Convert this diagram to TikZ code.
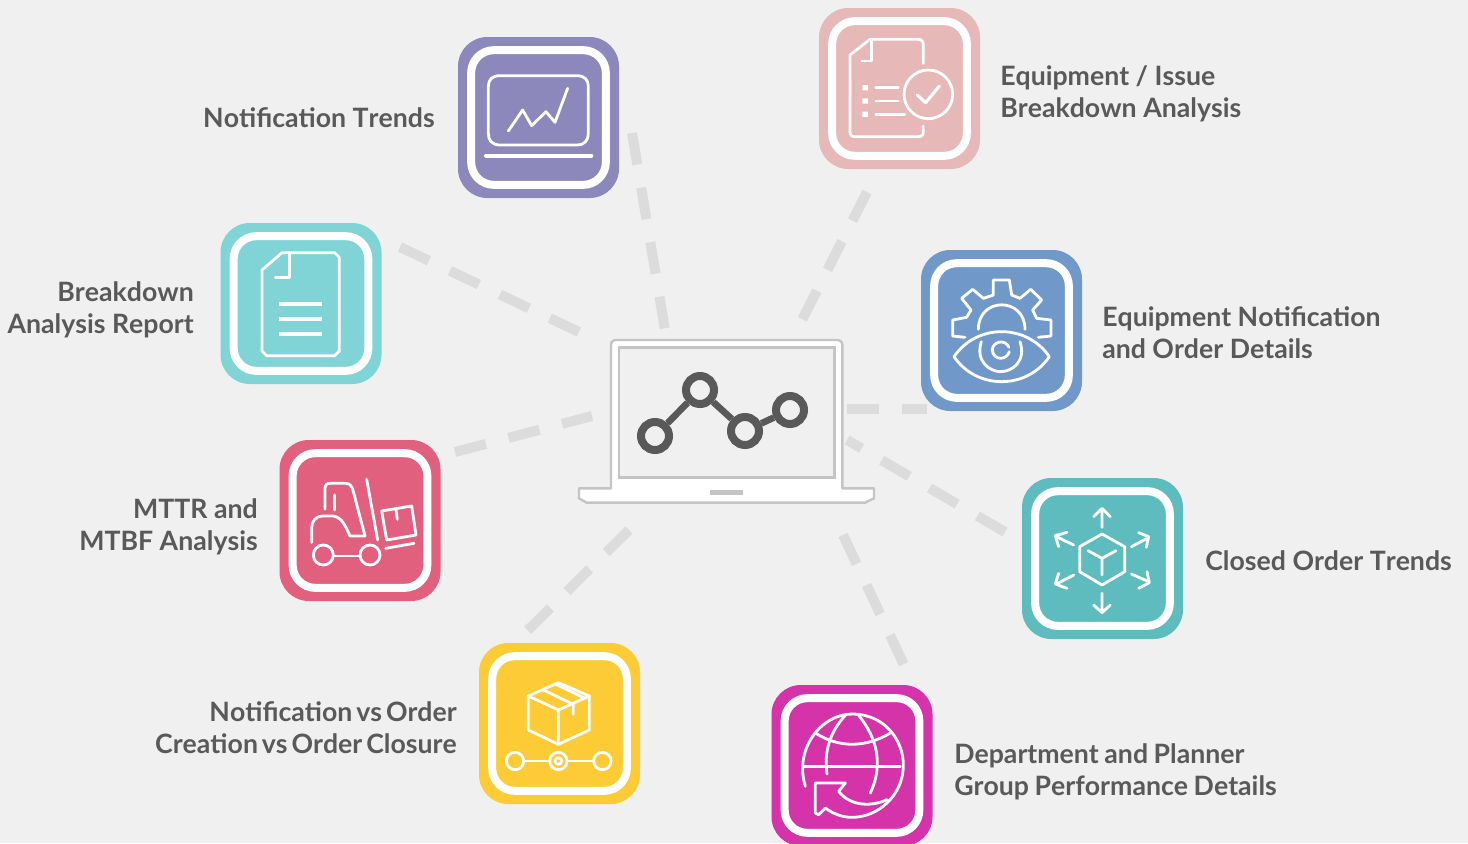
\documentclass[tikz,border=0pt]{standalone}
\usepackage{fontspec}
\setmainfont[Kerning=Off]{Lato}
\definecolor{bg}{HTML}{F0F0F0}
\definecolor{txt}{HTML}{595959}
\definecolor{dashc}{HTML}{DCDCDC}
\definecolor{lapg}{HTML}{C4C4C4}
\definecolor{cTrends}{HTML}{8C88BC}
\definecolor{cIssue}{HTML}{E6B8B8}
\definecolor{cNotif}{HTML}{7099C9}
\definecolor{cClosed}{HTML}{5FBCBE}
\definecolor{cDept}{HTML}{D433A9}
\definecolor{cVs}{HTML}{FCCB35}
\definecolor{cMttr}{HTML}{E0607E}
\definecolor{cReport}{HTML}{80D4D5}
\tikzset{
  px/.style={x=0.75pt,y=-0.75pt},
  iconbox/.style={rectangle,draw=none,minimum size=120.75pt,rounded corners=22pt,inner sep=0pt},
  ringbox/.style={rectangle,draw=white,line width=6pt,minimum size=101pt,rounded corners=17pt,inner sep=0pt},
  conn/.style={draw=dashc,line width=7.5pt,dash pattern=on 24pt off 17.5pt},
  lbl/.style={text=txt,font=\fontsize{20}{24}\selectfont\bfseries,inner sep=0pt},
  lblL/.style={lbl,anchor=west,align=left},
  lblR/.style={lbl,anchor=east,align=right},
  zoomed/.style={x=0.25pt,y=-0.25pt},
  ic/.style={draw=white,line width=2.1pt,line join=round,line cap=round},
  graphnode/.style={circle,draw=txt,line width=6pt,minimum size=21pt,inner sep=0pt,fill=bg},
  graphedge/.style={draw=txt,line width=5pt},
}
\begin{document}
\begin{tikzpicture}[px]
\clip (0,0) rectangle (1468,843);
\fill[bg] (0,0) rectangle (1468,843);

% connector ends
\coordinate (t1) at (632,133);   \coordinate (t2) at (665,330);
\coordinate (i1) at (867,192);   \coordinate (i2) at (802,320);
\coordinate (n1) at (847,409);   \coordinate (n2) at (927,409);
\coordinate (c1) at (1005,532);  \coordinate (c2) at (847,440);
\coordinate (d1) at (843,535);   \coordinate (d2) at (905,667);
\coordinate (v1) at (629,530);   \coordinate (v2) at (525,633);
\coordinate (m1) at (455,452);   \coordinate (m2) at (592,416);
\coordinate (r1) at (400,247);   \coordinate (r2) at (581,333);
\draw[conn] (t1) -- (t2);
\draw[conn] (i1) -- (i2);
\draw[conn] (n1) -- (n2);
\draw[conn] (c1) -- (c2);
\draw[conn] (d1) -- (d2);
\draw[conn] (v1) -- (v2);
\draw[conn] (m1) -- (m2);
\draw[conn] (r1) -- (r2);

% laptop
\begin{scope}[shift={(570,330)},zoomed]
\draw[lapg,fill=white,line width=1.8pt,line join=round]
  (123,475) -- (123,45) .. controls (123,35) and (130,30) .. (140,30) -- (800,30)
  .. controls (810,30) and (817,35) .. (817,45) -- (817,475) -- (912,475) -- (912,505)
  -- (885,518) -- (50,518) -- (27,505) -- (27,475) -- cycle;
\draw[lapg,fill=bg,line width=1.8pt] (147,52) rectangle (793,442);
\fill[lapg] (420,481) rectangle (520,495);
\node[graphnode] (g1) at (255,318) {};
\node[graphnode] (g2) at (390,180) {};
\node[graphnode] (g3) at (525,303) {};
\node[graphnode] (g4) at (660,240) {};
\draw[graphedge] (g1) -- (g2);
\draw[graphedge] (g2) -- (g3);
\draw[graphedge] (g3) -- (g4);
\end{scope}

% icon boxes
\node[iconbox,fill=cTrends] (trends) at (538.5,117.5) {};
\node[ringbox] at (trends) {};
\node[iconbox,fill=cIssue] (issue) at (899.5,88.5) {};
\node[ringbox] at (issue) {};
\node[iconbox,fill=cNotif] (notif) at (1001.5,330.5) {};
\node[ringbox] at (notif) {};
\node[iconbox,fill=cClosed] (closed) at (1102.5,558.5) {};
\node[ringbox] at (closed) {};
\node[iconbox,fill=cDept] (dept) at (852,765.5) {};
\node[ringbox] at (dept) {};
\node[iconbox,fill=cVs] (vs) at (559.5,723.5) {};
\node[ringbox] at (vs) {};
\node[iconbox,fill=cMttr] (mttr) at (360,520.5) {};
\node[ringbox] at (mttr) {};
\node[iconbox,fill=cReport] (report) at (301,303.5) {};
\node[ringbox] at (report) {};

% trends glyph
\begin{scope}[shift={(450,30)},zoomed]
\draw[ic] (150,137) -- (380,137) .. controls (405,137) and (415,150) .. (415,170) -- (415,310)
  .. controls (415,330) and (405,345) .. (380,345) -- (150,345) .. controls (125,345) and (115,330) .. (115,310)
  -- (115,170) .. controls (115,150) and (125,137) .. (150,137) -- cycle;
\draw[ic] (175,303) -- (218,240) -- (245,287) -- (288,245) -- (315,277) -- (353,175);
\draw[ic,line width=3pt] (108,377) -- (424,377);
\end{scope}

% issue glyph
\begin{scope}[shift={(810,0)},zoomed]
\draw[ic] (340,190) -- (340,135) .. controls (340,125) and (335,118) .. (325,118) -- (180,118) -- (120,165)
  -- (120,395) .. controls (120,405) and (125,410) .. (135,410) -- (325,410)
  .. controls (335,410) and (340,405) .. (340,395) -- (340,378);
\draw[ic] (185,118) -- (185,183) -- (155,183);
\fill[white] (157,255) rectangle (174,271) (157,295) rectangle (174,311) (157,335) rectangle (174,351);
\draw[ic] (197,263) -- (265,263) (197,303) -- (265,303) (197,343) -- (285,343);
\draw[ic] (355,283) circle[radius=73];
\draw[ic,line width=2.4pt] (322,285) -- (347,308) -- (388,258);
\end{scope}

% equipment notification glyph
\begin{scope}[shift={(910,240)},zoomed]
\draw[ic] (165,292) -- (128,288) -- (128,240) -- (170,232) -- (183,210) -- (155,175) -- (188,148) -- (220,175)
  -- (250,165) -- (250,120) -- (298,120) -- (305,165) -- (330,175) -- (362,148) -- (395,180) -- (368,210)
  -- (380,235) -- (423,240) -- (423,288) -- (385,292);
\draw[ic] (205,268) .. controls (205,170) and (345,170) .. (345,268);
\draw[ic] (132,350) .. controls (200,250) and (350,250) .. (418,350)
  .. controls (350,450) and (200,450) .. (132,350) -- cycle;
\draw[ic] (214,305) .. controls (195,365) and (240,395) .. (272,395)
  .. controls (305,395) and (350,365) .. (330,305);
\draw[ic] (297,322) .. controls (285,295) and (247,305) .. (247,330)
  .. controls (247,345) and (260,355) .. (272,355) .. controls (285,355) and (295,345) .. (298,335);
\end{scope}

% closed order glyph
\begin{scope}[shift={(1012,470)},zoomed]
\draw[ic] (270,192) -- (338,230) -- (338,305) -- (270,345) -- (203,305) -- (203,230) -- cycle;
\draw[ic] (228,242) -- (270,265) -- (312,242) (270,265) -- (270,315);
\draw[ic] (270,172) -- (270,118) (245,140) -- (270,115) -- (295,140);
\draw[ic] (270,370) -- (270,428) (245,405) -- (270,428) -- (295,405);
\draw[ic] (185,225) -- (133,200) (140,230) -- (130,197) -- (165,187);
\draw[ic] (358,230) -- (410,203) (380,188) -- (410,200) -- (403,232);
\draw[ic] (185,315) -- (133,342) (140,310) -- (130,342) -- (165,355);
\draw[ic] (358,312) -- (410,335) (405,305) -- (412,338) -- (380,355);
\end{scope}

% department glyph
\begin{scope}[shift={(762,678)},zoomed]
\draw[ic] (130,325) .. controls (95,210) and (180,108) .. (270,108)
  .. controls (370,108) and (425,190) .. (424,262)
  .. controls (424,350) and (350,418) .. (270,418) .. controls (240,418) and (215,408) .. (190,390);
\draw[ic] (190,390) -- (170,410) -- (160,405) -- (160,315) -- (250,315) -- (230,340)
  .. controls (260,380) and (320,390) .. (375,365);
\draw[ic] (250,112) .. controls (205,160) and (185,220) .. (195,288);
\draw[ic] (290,112) .. controls (345,180) and (365,260) .. (325,345);
\draw[ic] (125,265) -- (415,265);
\draw[ic] (160,165) .. controls (230,210) and (310,210) .. (385,165);
\end{scope}

% notification vs order glyph
\begin{scope}[shift={(470,635)},zoomed]
\draw[ic] (265,143) -- (358,183) -- (358,285) -- (265,328) -- (175,285) -- (175,183) -- cycle;
\draw[ic] (175,183) -- (265,225) -- (358,183) (265,225) -- (265,328);
\draw[ic] (220,165) -- (310,208) -- (310,238) (258,148) -- (345,190);
\draw[ic] (135,378) circle[radius=26] (265,378) circle[radius=26] (397,378) circle[radius=26];
\draw[ic] (265,378) circle[radius=10];
\draw[ic] (162,378) -- (238,378) (292,378) -- (370,378);
\end{scope}

% mttr glyph
\begin{scope}[shift={(270,430)},zoomed]
\draw[ic] (165,238) -- (165,175) .. controls (165,165) and (170,160) .. (180,160) -- (228,160)
  .. controls (240,160) and (247,170) .. (250,185) -- (285,318) -- (240,318)
  .. controls (225,285) and (215,262) .. (190,258) -- (160,258)
  .. controls (135,258) and (125,275) .. (125,295) -- (125,338);
\draw[ic] (193,240) -- (193,195);
\draw[ic] (290,148) -- (323,330);
\draw[ic] (335,243) -- (425,228) -- (438,315) -- (350,330) -- cycle;
\draw[ic] (378,240) -- (382,268);
\draw[ic] (347,355) -- (432,340);
\draw[ic] (160,375) circle[radius=30] (300,375) circle[radius=30];
\draw[ic] (190,378) -- (270,378);
\end{scope}

% report glyph
\begin{scope}[shift={(212,215)},zoomed]
\draw[ic] (210,113) -- (368,113) -- (382,127) -- (382,408) -- (368,422) -- (164,422) -- (150,408) -- (150,165) -- cycle;
\draw[ic] (232,113) -- (232,187) -- (190,187);
\draw[ic,line width=3pt,line cap=butt] (200,266) -- (330,266) (200,311) -- (330,311) (200,356) -- (330,356);
\end{scope}

% labels
\node[lblR] (ltrends) at (435,118) {Notification Trends};
\node[lblL] (lissue) at (1000,94) {Equipment / Issue\\Breakdown Analysis};
\node[lblL] (lnotif) at (1102,333) {Equipment Notification\\and Order Details};
\node[lblL] (lclosed) at (1205,561) {Closed Order Trends};
\node[lblL] (ldept) at (954,772) {\spaceskip=4.15pt Department and Planner\\\spaceskip=4.15pt Group Performance Details};
\node[lblR] (lvs) at (457,728) {\spaceskip=2.9pt Notification vs Order\\\spaceskip=2.9pt Creation vs Order Closure};
\node[lblR] (lmttr) at (258,527) {MTTR and\\MTBF Analysis};
\node[lblR] (lreport) at (194,310) {Breakdown\\Analysis Report};
\end{tikzpicture}
\end{document}
